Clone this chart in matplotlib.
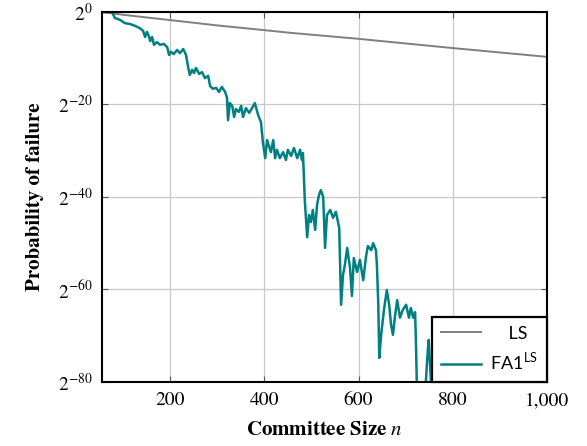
import matplotlib.pyplot as plt
import matplotlib.ticker as mticker
import numpy as np

# Font: serif per assi ed etichette, sans per la legenda
plt.rcParams['font.family'] = 'STIXGeneral'
plt.rcParams['mathtext.fontset'] = 'custom'
plt.rcParams['mathtext.rm'] = 'STIXGeneral'
plt.rcParams['mathtext.it'] = 'STIXGeneral:italic'
plt.rcParams['mathtext.sf'] = 'Lato'

### DATI: esponente in base 2 della probabilita' di fallimento ##########
# LS
n_ls = [56, 100, 196, 300, 398, 455, 600, 800, 1000]
exp_ls = [0, -0.6, -1.7, -2.9, -3.9, -4.5, -5.8, -7.8, -9.7]

# FA1^LS
n_fa = [56, 77, 83, 94, 104, 115, 126, 136, 143, 147, 151, 155, 158, 162,
        166, 172, 179, 187, 194, 198, 202, 208, 215, 221, 228, 234, 238,
        242, 247, 251, 255, 262, 268, 274, 281, 285, 291, 298, 304, 310,
        317, 321, 323, 327, 332, 336, 340, 346, 351, 355, 361, 368, 374,
        380, 387, 393, 397, 402, 406, 410, 414, 419, 423, 427, 433, 440,
        446, 450, 457, 463, 470, 476, 480, 482, 484, 486, 491, 495, 499,
        503, 508, 512, 516, 520, 525, 529, 533, 540, 546, 552, 559, 561,
        563, 567, 571, 576, 582, 586, 590, 597, 603, 610, 616, 620, 627,
        631, 637, 639, 642, 644, 648, 654, 660, 665, 669, 673, 677, 682,
        688, 694, 701, 707, 711, 716, 720, 722, 724, 741, 747, 749, 754,
        758, 780]
exp_fa = [0, 0, -1.3, -1.7, -2.4, -2.6, -3.0, -3.5, -4.1, -5.4, -4.3, -5.2,
          -6.3, -5.4, -7.1, -6.5, -7.1, -6.9, -7.6, -9.3, -8.6, -9.1, -8.2,
          -8.9, -8.0, -9.3, -11.7, -13.6, -12.5, -13.2, -12.1, -13.4, -13.0,
          -14.3, -13.8, -16.0, -16.6, -16.4, -17.3, -16.2, -17.3, -18.6,
          -23.4, -19.7, -20.3, -22.7, -21.0, -21.6, -20.3, -22.7, -20.8,
          -21.8, -20.8, -19.7, -22.3, -23.8, -28.1, -31.6, -27.7, -29.0,
          -30.3, -27.7, -31.6, -29.8, -31.6, -30.3, -32.0, -29.8, -31.1,
          -29.4, -31.6, -29.8, -32.0, -30.5, -35.3, -40.7, -48.7, -43.9,
          -45.4, -42.8, -47.1, -41.7, -39.6, -38.5, -40.0, -51.0, -43.9,
          -42.8, -44.5, -43.2, -46.7, -54.7, -63.3, -56.9, -54.7, -51.0,
          -55.4, -61.4, -53.2, -56.2, -53.6, -58.0, -52.8, -50.6, -51.5,
          -50.0, -51.5, -54.7, -63.3, -74.8, -69.8, -64.4, -60.1, -63.3,
          -67.6, -69.8, -66.1, -62.3, -66.1, -64.4, -63.3, -66.1, -64.0,
          -66.1, -64.9, -72.0, -82.0, -83.0, -73.1, -70.9, -80.5, -83.0,
          -85.0]

y_ticks_exp = [0, -20, -40, -60, -80]
x_ticks = [200, 400, 600, 800, 1000]
#########################################################################

fig = plt.figure(figsize=(5.87, 4.46), dpi=100)
ax = fig.add_axes([0.1738, 0.1435, 0.7581, 0.8296])

ax.plot(n_ls, 2.0 ** np.array(exp_ls), color='#7f7f7f', linewidth=1.4,
        label='    LS', zorder=3)
ax.plot(n_fa, 2.0 ** np.array(exp_fa), color='#008080', linewidth=1.8,
        label=r'FA1$^{\mathsf{LS}}$', zorder=3)

ax.set_yscale('log', base=2)
ax.set_xlim(55.7, 1000)
ax.set_ylim(2.0 ** -80, 1)

ax.set_yticks([2.0 ** e for e in y_ticks_exp])
ax.set_yticklabels([r'$2^{%d}$' % e for e in y_ticks_exp])
ax.yaxis.set_minor_locator(mticker.NullLocator())
ax.set_xticks(x_ticks)
ax.set_xticklabels(['{:,}'.format(v) for v in x_ticks])

ax.tick_params(direction='in', length=4, width=0.8, color='#555555',
               top=True, right=True, labelsize=14, pad=7)

# griglia leggera
ax.grid(True, color='#c8c8c8', linewidth=0.9)
ax.set_axisbelow(True)
for sp in ax.spines.values():
    sp.set_linewidth(1.5)
    sp.set_zorder(5)

ax.set_xlabel(r'Committee Size $n$', fontsize=15, fontweight='bold', labelpad=9)
ax.set_ylabel('Probability of failure', fontsize=15, fontweight='bold', labelpad=10)

leg = ax.legend(loc='lower right', borderaxespad=0, fancybox=False,
                edgecolor='black', framealpha=1,
                prop={'family': 'Lato', 'size': 13},
                handlelength=2.2, handletextpad=0.5, labelspacing=0.55,
                borderpad=0.5)
leg.get_frame().set_linewidth(1.6)
leg.set_zorder(6)

fig.savefig('out.png', dpi=100)
